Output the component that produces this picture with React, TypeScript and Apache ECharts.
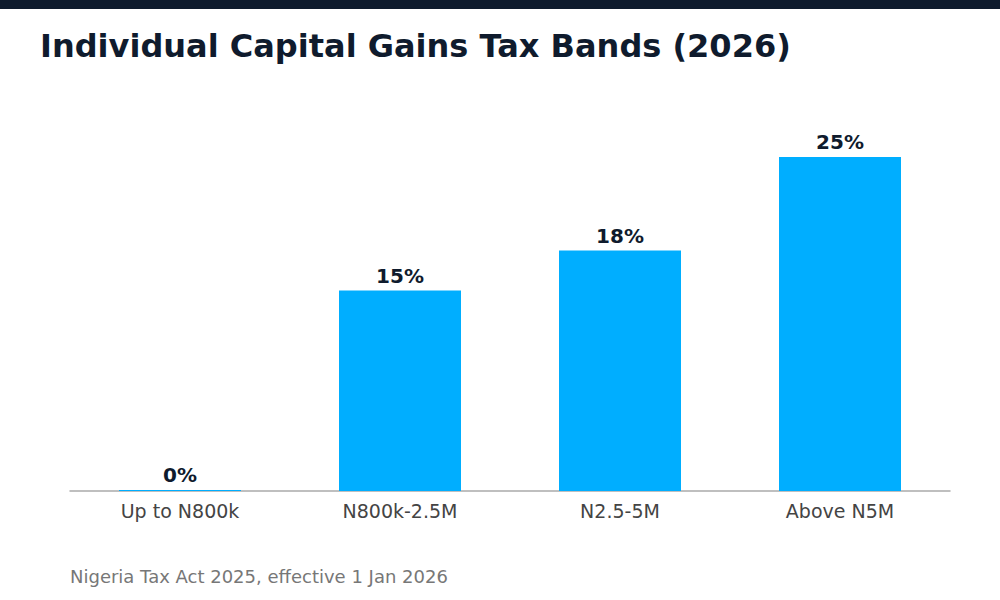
import React, { useEffect, useRef } from "react";
import * as echarts from "echarts";

const TITLE = "Individual Capital Gains Tax Bands (2026)";
const SOURCE = "Nigeria Tax Act 2025, effective 1 Jan 2026";
const bands = ["Up to N800k", "N800k-2.5M", "N2.5-5M", "Above N5M"];
const rates = [0, 15, 18, 25];

const NAVY = "#0f1b2d";
const BLUE = "#00aeff";

export default function App() {
  const ref = useRef<HTMLDivElement>(null);

  useEffect(() => {
    document.body.style.margin = "0";
    const chart = echarts.init(ref.current!, null, { renderer: "svg" });
    chart.setOption({
      animation: false,
      backgroundColor: "#ffffff",
      textStyle: { fontFamily: "DejaVu Sans" },
      grid: { left: 70, right: 50, top: 157, bottom: 109 },
      xAxis: {
        type: "category",
        data: bands,
        axisLine: { lineStyle: { color: "#aaaaaa", width: 1.5 } },
        axisTick: { show: false },
        axisLabel: {
          color: "#444444",
          fontSize: 19,
          margin: 10,
          fontFamily: "DejaVu Sans",
        },
      },
      yAxis: {
        type: "value",
        min: 0,
        max: 25,
        show: false,
        splitLine: { show: false },
      },
      series: [
        {
          type: "bar",
          data: rates,
          barWidth: 122,
          barMinHeight: 1,
          itemStyle: { color: BLUE },
          label: {
            show: true,
            position: "top",
            distance: 5,
            formatter: "{c}%",
            color: NAVY,
            fontSize: 20,
            fontWeight: "bold",
            fontFamily: "DejaVu Sans",
          },
        },
      ],
      graphic: [
        {
          type: "rect",
          left: 0,
          top: 0,
          shape: { width: 1000, height: 9 },
          style: { fill: NAVY },
        },
        {
          type: "text",
          left: 40,
          top: 30,
          style: {
            text: TITLE,
            fill: NAVY,
            font: "bold 32px 'DejaVu Sans'",
          },
        },
        {
          type: "text",
          left: 70,
          top: 567,
          style: {
            text: SOURCE,
            fill: "#777777",
            font: "18px 'DejaVu Sans'",
          },
        },
      ],
    });
    return () => chart.dispose();
  }, []);

  return <div ref={ref} style={{ width: 1000, height: 600 }} />;
}
